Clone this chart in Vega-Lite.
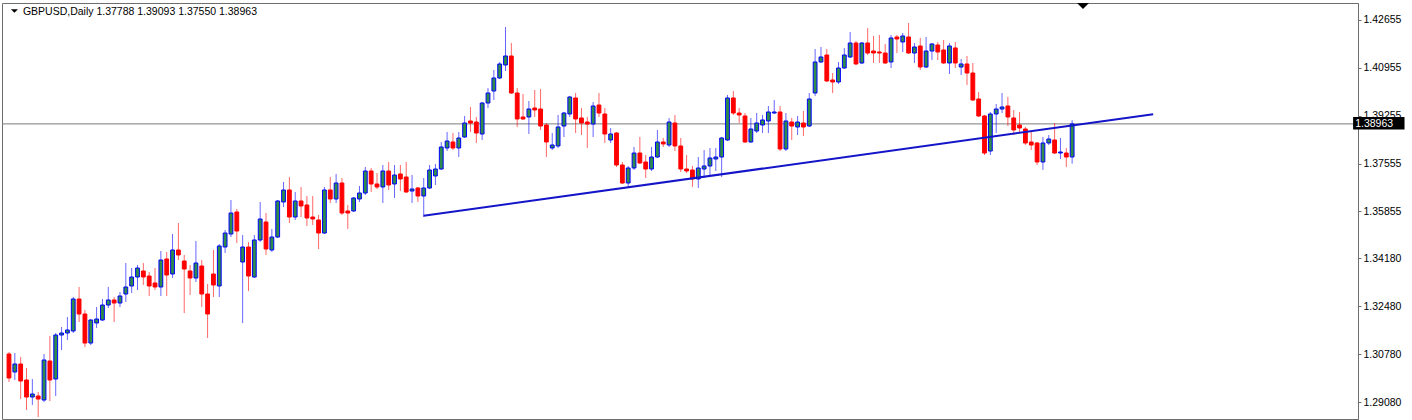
{
  "$schema": "https://vega.github.io/schema/vega-lite/v6.json",
  "width": 1356,
  "height": 416,
  "autosize": {"type": "none"},
  "padding": {"left": 2, "top": 3, "right": 54, "bottom": 1},
  "background": "white",
  "config": {"view": {"stroke": "#6e6e6e", "strokeWidth": 1}, "font": "Liberation Sans"},
  "resolve": {"scale": {"y": "shared", "x": "shared"}, "axis": {"y": "independent", "x": "independent"}},
  "datasets": {
    "ohlc": [
      {"d":0,"o":1.30786,"h":1.30857,"l":1.29791,"c":1.29933},
      {"d":1,"o":1.30146,"h":1.30821,"l":1.29862,"c":1.30431},
      {"d":2,"o":1.30431,"h":1.30679,"l":1.29186,"c":1.29826},
      {"d":3,"o":1.29862,"h":1.30289,"l":1.28796,"c":1.29257},
      {"d":4,"o":1.29257,"h":1.29897,"l":1.28973,"c":1.29364},
      {"d":5,"o":1.29293,"h":1.29435,"l":1.28547,"c":1.29186},
      {"d":6,"o":1.29151,"h":1.30786,"l":1.2908,"c":1.30573},
      {"d":7,"o":1.30537,"h":1.31426,"l":1.29115,"c":1.29862},
      {"d":8,"o":1.29897,"h":1.31532,"l":1.29293,"c":1.31461},
      {"d":9,"o":1.31461,"h":1.31745,"l":1.30928,"c":1.31532},
      {"d":10,"o":1.31532,"h":1.321,"l":1.31283,"c":1.31639},
      {"d":11,"o":1.31603,"h":1.32811,"l":1.31532,"c":1.3274},
      {"d":12,"o":1.3274,"h":1.33167,"l":1.31923,"c":1.32207},
      {"d":13,"o":1.32207,"h":1.32349,"l":1.31034,"c":1.31176},
      {"d":14,"o":1.31176,"h":1.32029,"l":1.31105,"c":1.31994},
      {"d":15,"o":1.31887,"h":1.32456,"l":1.3171,"c":1.32029},
      {"d":16,"o":1.31994,"h":1.3274,"l":1.31958,"c":1.32527},
      {"d":17,"o":1.32527,"h":1.33167,"l":1.32421,"c":1.32705},
      {"d":18,"o":1.32705,"h":1.32811,"l":1.31923,"c":1.32598},
      {"d":19,"o":1.32598,"h":1.32989,"l":1.32456,"c":1.32847},
      {"d":20,"o":1.32918,"h":1.34019,"l":1.32634,"c":1.33167},
      {"d":21,"o":1.33203,"h":1.33842,"l":1.32953,"c":1.33522},
      {"d":22,"o":1.33522,"h":1.33948,"l":1.3306,"c":1.33842},
      {"d":23,"o":1.33735,"h":1.34019,"l":1.33238,"c":1.33522},
      {"d":24,"o":1.33558,"h":1.337,"l":1.32847,"c":1.33203},
      {"d":25,"o":1.33309,"h":1.33842,"l":1.3306,"c":1.33167},
      {"d":26,"o":1.33167,"h":1.34446,"l":1.32847,"c":1.34126},
      {"d":27,"o":1.34162,"h":1.34411,"l":1.32847,"c":1.33593},
      {"d":28,"o":1.33629,"h":1.3505,"l":1.33487,"c":1.34482},
      {"d":29,"o":1.34482,"h":1.35441,"l":1.34126,"c":1.34304},
      {"d":30,"o":1.3409,"h":1.34304,"l":1.32242,"c":1.33806},
      {"d":31,"o":1.33735,"h":1.33948,"l":1.32882,"c":1.33487},
      {"d":32,"o":1.33487,"h":1.34801,"l":1.33345,"c":1.34019},
      {"d":33,"o":1.33913,"h":1.34126,"l":1.32456,"c":1.32918},
      {"d":34,"o":1.32918,"h":1.33274,"l":1.31355,"c":1.32207},
      {"d":35,"o":1.33629,"h":1.34482,"l":1.32811,"c":1.33238},
      {"d":36,"o":1.33203,"h":1.34695,"l":1.32811,"c":1.34624},
      {"d":37,"o":1.34588,"h":1.35192,"l":1.34375,"c":1.35085},
      {"d":38,"o":1.3505,"h":1.36259,"l":1.34943,"c":1.35796},
      {"d":39,"o":1.35832,"h":1.35939,"l":1.3473,"c":1.35156},
      {"d":40,"o":1.34055,"h":1.35014,"l":1.31887,"c":1.34588},
      {"d":41,"o":1.34588,"h":1.34766,"l":1.33024,"c":1.33558},
      {"d":42,"o":1.33522,"h":1.35014,"l":1.33487,"c":1.34837},
      {"d":43,"o":1.34837,"h":1.36188,"l":1.34766,"c":1.35583},
      {"d":44,"o":1.35477,"h":1.35796,"l":1.34304,"c":1.34517},
      {"d":45,"o":1.34482,"h":1.35228,"l":1.34411,"c":1.34943},
      {"d":46,"o":1.34943,"h":1.36259,"l":1.34908,"c":1.36223},
      {"d":47,"o":1.36188,"h":1.36898,"l":1.3601,"c":1.36614},
      {"d":48,"o":1.36614,"h":1.37076,"l":1.35441,"c":1.35654},
      {"d":49,"o":1.35654,"h":1.36543,"l":1.35548,"c":1.36223},
      {"d":50,"o":1.36223,"h":1.3672,"l":1.35654,"c":1.36046},
      {"d":51,"o":1.36081,"h":1.36401,"l":1.35335,"c":1.35619},
      {"d":52,"o":1.35654,"h":1.36401,"l":1.3537,"c":1.35583},
      {"d":53,"o":1.35548,"h":1.35725,"l":1.34517,"c":1.35085},
      {"d":54,"o":1.35085,"h":1.3672,"l":1.3505,"c":1.36614},
      {"d":55,"o":1.36614,"h":1.37076,"l":1.36152,"c":1.36294},
      {"d":56,"o":1.36294,"h":1.37183,"l":1.36152,"c":1.36862},
      {"d":57,"o":1.36862,"h":1.3704,"l":1.35725,"c":1.35796},
      {"d":58,"o":1.35868,"h":1.36081,"l":1.35228,"c":1.35796},
      {"d":59,"o":1.35868,"h":1.36365,"l":1.35832,"c":1.3633},
      {"d":60,"o":1.36294,"h":1.36756,"l":1.36188,"c":1.36507},
      {"d":61,"o":1.36507,"h":1.37431,"l":1.36436,"c":1.37289},
      {"d":62,"o":1.37289,"h":1.37396,"l":1.36543,"c":1.36827},
      {"d":63,"o":1.36827,"h":1.37218,"l":1.36649,"c":1.3672},
      {"d":64,"o":1.3672,"h":1.37502,"l":1.36152,"c":1.37289},
      {"d":65,"o":1.37289,"h":1.37609,"l":1.36614,"c":1.36791},
      {"d":66,"o":1.36827,"h":1.37502,"l":1.3633,"c":1.37147},
      {"d":67,"o":1.37183,"h":1.37502,"l":1.36578,"c":1.37005},
      {"d":68,"o":1.37076,"h":1.37609,"l":1.36507,"c":1.36543},
      {"d":69,"o":1.36578,"h":1.37147,"l":1.36152,"c":1.36649},
      {"d":70,"o":1.36685,"h":1.3672,"l":1.36188,"c":1.36401},
      {"d":71,"o":1.36401,"h":1.3704,"l":1.35654,"c":1.36685},
      {"d":72,"o":1.36685,"h":1.37502,"l":1.36649,"c":1.37325},
      {"d":73,"o":1.37112,"h":1.37538,"l":1.36791,"c":1.3736},
      {"d":74,"o":1.3736,"h":1.3832,"l":1.37325,"c":1.38142},
      {"d":75,"o":1.38107,"h":1.38675,"l":1.37999,"c":1.38355},
      {"d":76,"o":1.3832,"h":1.38639,"l":1.38035,"c":1.38107},
      {"d":77,"o":1.38107,"h":1.38675,"l":1.37786,"c":1.38462},
      {"d":78,"o":1.38497,"h":1.39244,"l":1.38462,"c":1.38995},
      {"d":79,"o":1.39066,"h":1.39563,"l":1.38675,"c":1.38995},
      {"d":80,"o":1.3903,"h":1.39208,"l":1.38284,"c":1.38639},
      {"d":81,"o":1.38604,"h":1.39741,"l":1.38391,"c":1.39705},
      {"d":82,"o":1.39705,"h":1.40239,"l":1.39528,"c":1.40061},
      {"d":83,"o":1.40132,"h":1.40878,"l":1.39812,"c":1.40594},
      {"d":84,"o":1.40594,"h":1.41163,"l":1.40558,"c":1.41092},
      {"d":85,"o":1.41056,"h":1.42406,"l":1.40842,"c":1.41376},
      {"d":86,"o":1.41376,"h":1.41838,"l":1.40026,"c":1.40061},
      {"d":87,"o":1.40061,"h":1.40239,"l":1.38853,"c":1.39137},
      {"d":88,"o":1.39208,"h":1.40026,"l":1.39102,"c":1.39137},
      {"d":89,"o":1.39208,"h":1.39777,"l":1.38604,"c":1.39492},
      {"d":90,"o":1.39528,"h":1.40168,"l":1.39208,"c":1.39457},
      {"d":91,"o":1.39492,"h":1.40203,"l":1.38746,"c":1.38888},
      {"d":92,"o":1.38924,"h":1.38995,"l":1.37786,"c":1.3832},
      {"d":93,"o":1.38107,"h":1.38639,"l":1.38035,"c":1.38213},
      {"d":94,"o":1.38178,"h":1.39279,"l":1.38107,"c":1.38853},
      {"d":95,"o":1.38888,"h":1.39386,"l":1.38497,"c":1.3935},
      {"d":96,"o":1.39315,"h":1.39955,"l":1.39208,"c":1.39919},
      {"d":97,"o":1.39884,"h":1.40061,"l":1.38639,"c":1.39137},
      {"d":98,"o":1.39173,"h":1.39528,"l":1.38568,"c":1.38995},
      {"d":99,"o":1.3903,"h":1.39208,"l":1.38107,"c":1.38959},
      {"d":100,"o":1.38959,"h":1.39741,"l":1.38497,"c":1.39599},
      {"d":101,"o":1.39634,"h":1.40061,"l":1.39208,"c":1.3935},
      {"d":102,"o":1.39315,"h":1.39528,"l":1.38284,"c":1.38604},
      {"d":103,"o":1.38391,"h":1.38817,"l":1.38284,"c":1.38604},
      {"d":104,"o":1.38639,"h":1.38675,"l":1.37431,"c":1.37502},
      {"d":105,"o":1.37502,"h":1.37609,"l":1.36827,"c":1.36862},
      {"d":106,"o":1.36862,"h":1.37467,"l":1.36685,"c":1.37396},
      {"d":107,"o":1.37396,"h":1.38142,"l":1.37325,"c":1.37928},
      {"d":108,"o":1.37928,"h":1.38497,"l":1.37538,"c":1.37573},
      {"d":109,"o":1.37609,"h":1.37857,"l":1.3704,"c":1.3736},
      {"d":110,"o":1.3736,"h":1.38142,"l":1.37289,"c":1.37786},
      {"d":111,"o":1.37786,"h":1.38746,"l":1.37751,"c":1.3832},
      {"d":112,"o":1.3832,"h":1.38462,"l":1.38142,"c":1.38249},
      {"d":113,"o":1.38213,"h":1.39173,"l":1.38142,"c":1.3903},
      {"d":114,"o":1.38995,"h":1.39279,"l":1.37999,"c":1.38178},
      {"d":115,"o":1.38178,"h":1.38462,"l":1.37254,"c":1.3736},
      {"d":116,"o":1.3736,"h":1.37857,"l":1.37218,"c":1.37289},
      {"d":117,"o":1.37325,"h":1.37467,"l":1.3672,"c":1.37005},
      {"d":118,"o":1.37005,"h":1.37786,"l":1.36685,"c":1.37396},
      {"d":119,"o":1.3736,"h":1.38035,"l":1.3704,"c":1.37467},
      {"d":120,"o":1.37467,"h":1.38107,"l":1.37147,"c":1.37751},
      {"d":121,"o":1.37715,"h":1.38107,"l":1.37289,"c":1.37786},
      {"d":122,"o":1.37786,"h":1.38497,"l":1.37076,"c":1.38462},
      {"d":123,"o":1.38391,"h":1.3999,"l":1.38355,"c":1.39884},
      {"d":124,"o":1.39884,"h":1.40132,"l":1.39279,"c":1.3935},
      {"d":125,"o":1.3935,"h":1.39528,"l":1.38995,"c":1.39279},
      {"d":126,"o":1.39244,"h":1.3935,"l":1.38284,"c":1.3832},
      {"d":127,"o":1.3832,"h":1.39173,"l":1.38284,"c":1.38782},
      {"d":128,"o":1.3871,"h":1.3935,"l":1.38639,"c":1.38995},
      {"d":129,"o":1.38924,"h":1.39279,"l":1.38639,"c":1.39102},
      {"d":130,"o":1.39066,"h":1.39599,"l":1.38639,"c":1.39386},
      {"d":131,"o":1.3935,"h":1.39812,"l":1.39315,"c":1.39386},
      {"d":132,"o":1.39386,"h":1.39599,"l":1.37999,"c":1.38071},
      {"d":133,"o":1.38071,"h":1.3935,"l":1.37999,"c":1.39066},
      {"d":134,"o":1.3903,"h":1.39173,"l":1.38391,"c":1.38888},
      {"d":135,"o":1.38853,"h":1.39244,"l":1.38568,"c":1.3903},
      {"d":136,"o":1.38995,"h":1.39421,"l":1.38533,"c":1.38853},
      {"d":137,"o":1.38888,"h":1.40061,"l":1.38853,"c":1.39848},
      {"d":138,"o":1.40061,"h":1.41625,"l":1.39955,"c":1.41163},
      {"d":139,"o":1.41163,"h":1.41696,"l":1.41127,"c":1.41341},
      {"d":140,"o":1.41411,"h":1.41625,"l":1.40452,"c":1.40487},
      {"d":141,"o":1.40523,"h":1.40771,"l":1.40061,"c":1.40452},
      {"d":142,"o":1.40452,"h":1.41163,"l":1.40381,"c":1.40949},
      {"d":143,"o":1.40949,"h":1.41661,"l":1.40914,"c":1.41411},
      {"d":144,"o":1.41341,"h":1.42229,"l":1.41305,"c":1.41838},
      {"d":145,"o":1.41838,"h":1.41909,"l":1.41056,"c":1.41092},
      {"d":146,"o":1.41127,"h":1.41874,"l":1.41092,"c":1.41838},
      {"d":147,"o":1.41838,"h":1.4237,"l":1.41411,"c":1.41482},
      {"d":148,"o":1.41553,"h":1.42087,"l":1.41127,"c":1.41482},
      {"d":149,"o":1.41518,"h":1.42122,"l":1.41127,"c":1.41482},
      {"d":150,"o":1.41482,"h":1.41803,"l":1.41092,"c":1.41127},
      {"d":151,"o":1.41163,"h":1.42122,"l":1.40949,"c":1.42016},
      {"d":152,"o":1.42051,"h":1.42122,"l":1.41482,"c":1.4198},
      {"d":153,"o":1.41874,"h":1.42193,"l":1.41518,"c":1.42087},
      {"d":154,"o":1.42051,"h":1.42548,"l":1.41447,"c":1.41482},
      {"d":155,"o":1.41482,"h":1.41838,"l":1.41127,"c":1.41696},
      {"d":156,"o":1.41732,"h":1.42016,"l":1.40878,"c":1.40985},
      {"d":157,"o":1.40985,"h":1.42051,"l":1.40949,"c":1.41553},
      {"d":158,"o":1.41553,"h":1.41838,"l":1.41234,"c":1.41803},
      {"d":159,"o":1.41767,"h":1.41874,"l":1.41234,"c":1.41518},
      {"d":160,"o":1.41589,"h":1.41945,"l":1.41092,"c":1.41127},
      {"d":161,"o":1.41127,"h":1.41838,"l":1.40736,"c":1.41732},
      {"d":162,"o":1.41661,"h":1.41874,"l":1.40949,"c":1.41127},
      {"d":163,"o":1.40985,"h":1.4127,"l":1.407,"c":1.41092},
      {"d":164,"o":1.41092,"h":1.41376,"l":1.40345,"c":1.40771},
      {"d":165,"o":1.40771,"h":1.41127,"l":1.39777,"c":1.39812},
      {"d":166,"o":1.39848,"h":1.40097,"l":1.39208,"c":1.39244},
      {"d":167,"o":1.39244,"h":1.39279,"l":1.37857,"c":1.37928},
      {"d":168,"o":1.37999,"h":1.39386,"l":1.37857,"c":1.39315},
      {"d":169,"o":1.39315,"h":1.3967,"l":1.38639,"c":1.39492},
      {"d":170,"o":1.39492,"h":1.40061,"l":1.3935,"c":1.39563},
      {"d":171,"o":1.39599,"h":1.39919,"l":1.38888,"c":1.39208},
      {"d":172,"o":1.39173,"h":1.39457,"l":1.38568,"c":1.38746},
      {"d":173,"o":1.38924,"h":1.39386,"l":1.38675,"c":1.38817},
      {"d":174,"o":1.38782,"h":1.38853,"l":1.38213,"c":1.38284},
      {"d":175,"o":1.3832,"h":1.3871,"l":1.38035,"c":1.38213},
      {"d":176,"o":1.38284,"h":1.3832,"l":1.37502,"c":1.37609},
      {"d":177,"o":1.37609,"h":1.38497,"l":1.37325,"c":1.38284},
      {"d":178,"o":1.38284,"h":1.38568,"l":1.38213,"c":1.38426},
      {"d":179,"o":1.38391,"h":1.38995,"l":1.37893,"c":1.37928},
      {"d":180,"o":1.37928,"h":1.38462,"l":1.37715,"c":1.37964},
      {"d":181,"o":1.37928,"h":1.38107,"l":1.37431,"c":1.37786},
      {"d":182,"o":1.37788,"h":1.39093,"l":1.3755,"c":1.38963}
    ],
    "trend": [
      {"d":70.98,"p":1.35701},
      {"d":195.87,"p":1.39304}
    ],
    "last": [
      {"price":1.38963,"label":"1.38963"}
    ],
    "header": [
      {"label":"GBPUSD,Daily 1.37788 1.39093 1.37550 1.38963"}
    ]
  },
  "layer": [
    {
      "data": {"name": "last"},
      "mark": {"type": "rule", "color": "#7a7a7a", "strokeWidth": 1},
      "encoding": {
        "y": {"field": "price", "type": "quantitative", "scale": {"domain": [1.28476, 1.43259], "nice": false, "zero": false},
          "axis": {"orient": "right", "values": [1.42655, 1.40955, 1.39255, 1.37555, 1.35855, 1.3418, 1.3248, 1.3078, 1.2908],
            "format": ".5f", "grid": false, "title": null, "tickSize": 3, "labelPadding": 2, "domainColor": "#6e6e6e", "tickColor": "#6e6e6e",
            "labelColor": "#000000", "labelFontSize": 10.5, "labelFont": "Liberation Sans", "labelFlush": false, "labelOverlap": false, "labelBaseline": "middle"}}
      }
    },
    {
      "data": {"name": "ohlc"},
      "mark": {"type": "rule", "strokeWidth": 1, "opacity": 0.6},
      "encoding": {
        "x": {"field": "d", "type": "quantitative", "scale": {"domain": [-0.34, 230.08], "nice": false, "zero": false}, "axis": null},
        "y": {"field": "l", "type": "quantitative", "axis": null},
        "y2": {"field": "h"},
        "color": {"condition": {"test": "datum.c >= datum.o", "value": "#0000ff"}, "value": "#ff0000"}
      }
    },
    {
      "data": {"name": "ohlc"},
      "mark": {"type": "bar", "size": 3.8, "strokeWidth": 1},
      "encoding": {
        "x": {"field": "d", "type": "quantitative", "axis": null},
        "y": {"field": "o", "type": "quantitative", "axis": null},
        "y2": {"field": "c"},
        "fill": {"condition": {"test": "datum.c >= datum.o", "value": "#2e8b4a"}, "value": "#ff0000"},
        "stroke": {"condition": {"test": "datum.c >= datum.o", "value": "#0000ff"}, "value": "#ff0000"}
      }
    },
    {
      "data": {"name": "trend"},
      "mark": {"type": "line", "color": "#1414c8", "strokeWidth": 2},
      "encoding": {
        "x": {"field": "d", "type": "quantitative", "axis": null},
        "y": {"field": "p", "type": "quantitative", "axis": null}
      }
    },
    {
      "data": {"name": "last"},
      "mark": {"type": "rect", "color": "#000000"},
      "encoding": {
        "x": {"datum": 230.1, "axis": null},
        "x2": {"datum": 238.9},
        "y": {"datum": 1.39208, "axis": null},
        "y2": {"datum": 1.38764}
      }
    },
    {
      "data": {"name": "last"},
      "mark": {"type": "text", "color": "#ffffff", "align": "left", "baseline": "middle", "font": "Liberation Sans", "fontSize": 10.5},
      "encoding": {
        "x": {"datum": 230.45, "axis": null},
        "y": {"field": "price", "type": "quantitative", "axis": null},
        "text": {"field": "label"}
      }
    },
    {
      "data": {"name": "header"},
      "mark": {"type": "text", "color": "#000000", "align": "left", "baseline": "middle", "font": "Liberation Sans", "fontSize": 10.5},
      "encoding": {
        "x": {"datum": 2.38, "axis": null},
        "y": {"datum": 1.4294, "axis": null},
        "text": {"field": "label"}
      }
    },
    {
      "data": {"name": "header"},
      "mark": {"type": "point", "shape": "M-1,-0.5L1,-0.5L0,0.5Z", "filled": true, "color": "#000000", "size": 49, "opacity": 1},
      "encoding": {
        "x": {"datum": 0.93, "axis": null},
        "y": {"datum": 1.42975, "axis": null}
      }
    },
    {
      "data": {"name": "header"},
      "mark": {"type": "point", "shape": "M-1,-0.5L1,-0.5L0,0.5Z", "filled": true, "color": "#000000", "size": 144, "opacity": 1},
      "encoding": {
        "x": {"datum": 183.86, "axis": null},
        "y": {"datum": 1.43153, "axis": null}
      }
    }
  ]
}
